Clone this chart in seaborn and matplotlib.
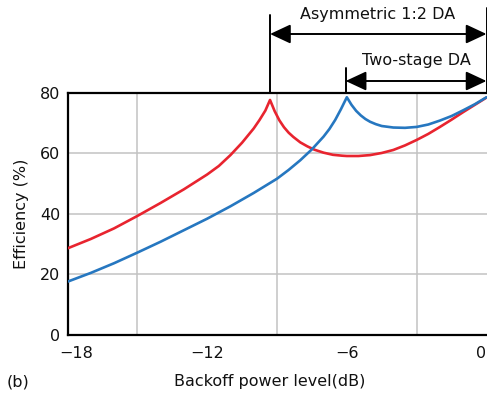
import matplotlib
matplotlib.use("Agg")
import matplotlib.pyplot as plt
import matplotlib.transforms as mtransforms
import seaborn as sns
import pandas as pd

# ---- data ----
asym_x = [-18, -17, -16, -15, -14, -13, -12, -11.5, -11, -10.5, -10, -9.75, -9.5, -9.3,
          -9.1, -8.9, -8.7, -8.5, -8.3, -8.0, -7.7, -7.4, -7.0, -6.6, -6.2, -6.0, -5.5,
          -5.0, -4.5, -4.0, -3.5, -3.0, -2.5, -2.0, -1.5, -1.0, -0.5, 0]
asym_y = [28.6, 31.7, 35.2, 39.3, 43.6, 48.1, 53.0, 55.8, 59.4, 63.5, 68.2, 71.0, 74.1, 77.6,
          73.9, 70.9, 68.6, 66.8, 65.4, 63.6, 62.3, 61.2, 60.2, 59.5, 59.2, 59.1, 59.1,
          59.4, 60.1, 61.1, 62.6, 64.4, 66.4, 68.7, 71.1, 73.6, 76.0, 78.4]

two_x = [-18, -17, -16, -15, -14, -13, -12, -11, -10, -9, -8.5, -8, -7.5, -7.0, -6.75, -6.5,
         -6.25, -6, -5.8, -5.6, -5.4, -5.2, -5.0, -4.75, -4.5, -4.0, -3.5, -3.0, -2.5, -2.0,
         -1.5, -1.0, -0.5, 0]
two_y = [17.6, 20.5, 23.7, 27.2, 30.8, 34.6, 38.4, 42.5, 46.9, 51.6, 54.5, 57.7, 61.3, 65.5,
         68.0, 71.0, 74.6, 78.5, 76.0, 74.0, 72.5, 71.3, 70.4, 69.6, 69.0, 68.5, 68.4, 68.7,
         69.5, 70.8, 72.3, 74.2, 76.2, 78.5]

series_names = ["Asymmetric 1:2 DA", "Two-stage DA"]
colors = ["#E8242F", "#2677C0"]

x_ticks = [-18, -12, -6, 0]
x_tick_labels = ["\u221218", "\u221212", "\u22126", "0"]
x_grid = [-18, -15, -12, -9, -6, -3, 0]
y_ticks = [0, 20, 40, 60, 80]

df = pd.concat([
    pd.DataFrame({"x": asym_x, "y": asym_y, "series": series_names[0]}),
    pd.DataFrame({"x": two_x, "y": two_y, "series": series_names[1]}),
], ignore_index=True)

sns.set_theme(style="white")
plt.rcParams["font.family"] = ["DejaVu Sans"]

W, H = 487, 395
fig = plt.figure(figsize=(W / 100, H / 100), dpi=100)
L, R, T, B = 67.5, 486.5, 92.7, 335.0
ax = fig.add_axes([L / W, 1 - B / H, (R - L) / W, (B - T) / H])

sns.lineplot(data=df, x="x", y="y", hue="series", palette=colors, ax=ax,
             estimator=None, sort=False, linewidth=1.9, legend=False, zorder=3)
for ln in ax.lines:
    ln.set_solid_joinstyle("round")

ax.set_xlim(-18, 0)
ax.set_ylim(0, 80)
ax.set_xticks(x_grid, minor=True)
ax.set_xticks(x_ticks)
ax.set_xticklabels(x_tick_labels)
ax.set_yticks(y_ticks)
ax.grid(True, which="minor", axis="x", color="#C2C2C2", linewidth=1.1)
ax.grid(True, which="major", axis="y", color="#C2C2C2", linewidth=1.1)
ax.set_axisbelow(True)
ax.tick_params(axis="both", which="both", length=0, labelsize=11.5, colors="#111111")
ax.tick_params(axis="x", pad=8)
ax.tick_params(axis="y", pad=5)
xl = ax.get_xticklabels()
xl[0].set_transform(xl[0].get_transform() +
                    mtransforms.ScaledTranslation(9 / 100, 0, fig.dpi_scale_trans))
xl[-1].set_horizontalalignment("right")
for s in ["left", "bottom", "top"]:
    ax.spines[s].set_color("black")
    ax.spines[s].set_linewidth(1.6)
ax.spines["right"].set_visible(False)

ax.set_xlabel("")
ax.set_ylabel("Efficiency (%)", fontsize=11.5, color="#111111", labelpad=8)
fig.text(270 / W, 1 - 381.7 / H, "Backoff power level(dB)", ha="center", va="center",
         fontsize=11.5, color="#111111")
fig.text(18 / W, 1 - 381.7 / H, "(b)", ha="center", va="center", fontsize=11.5, color="#111111")

# ---- span annotations above the plot ----
tr = ax.get_xaxis_transform()
def fy(py):
    return (B - py) / (B - T)

lkw = dict(color="black", linewidth=1.4, transform=tr, clip_on=False)
ax.plot([-9.3, -9.3], [fy(15), 1.0], **lkw)
ax.plot([0, 0], [fy(8), 1.0], **lkw)
ax.plot([-6.05, -6.05], [fy(68), 1.0], **lkw)

akw = dict(arrowstyle="<|-|>,head_length=0.9,head_width=0.42", color="black", lw=1.4,
           shrinkA=0, shrinkB=0, mutation_scale=14)
ax.annotate("", xy=(0, fy(34)), xytext=(-9.3, fy(34)), xycoords=tr, textcoords=tr,
            arrowprops=akw, annotation_clip=False)
ax.annotate("", xy=(0, fy(81)), xytext=(-6.05, fy(81)), xycoords=tr, textcoords=tr,
            arrowprops=akw, annotation_clip=False)
ax.text(-4.66, fy(15), "Asymmetric 1:2 DA", transform=tr, ha="center", va="center",
        fontsize=11.5, color="#111111")
ax.text(-2.99, fy(61), "Two-stage DA", transform=tr, ha="center", va="center",
        fontsize=11.5, color="#111111")

fig.savefig("out.png", dpi=100)
